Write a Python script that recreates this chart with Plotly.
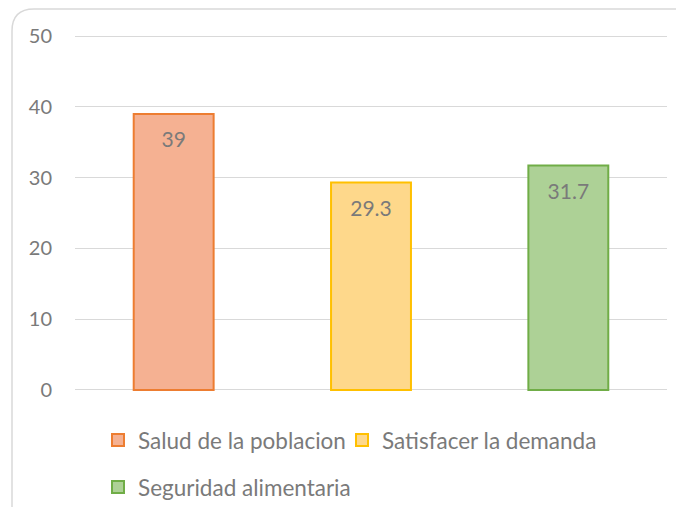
import plotly.graph_objects as go

categories = ["Salud de la poblacion", "Satisfacer la demanda", "Seguridad alimentaria"]
values = [39, 29.3, 31.7]
fill_colors = ["#F5B192", "#FED88B", "#ADD196"]
line_colors = ["#ED7D31", "#FFC000", "#70AD47"]
legend_ids = ["legend", "legend3", "legend2"]
y_ticks = [0, 10, 20, 30, 40, 50]
y_range = [-0.3, 50.3]

# page body has an 8px margin: work in reference pixels, shift by OFF
OFF = 8
W, H = 684 - 2 * OFF, 515 - 2 * OFF
Y0_PX, Y50_PX = 390, 36          # reference pixel rows of 0 and 50
X_LEFT, X_RIGHT = 75, 667        # reference pixel columns of plot edges
PX_PER_UNIT = (Y0_PX - Y50_PX) / 50
PLOT_T = Y50_PX - (y_range[1] - 50) * PX_PER_UNIT
PLOT_B = Y0_PX + (0 - y_range[0]) * PX_PER_UNIT
L = X_LEFT - OFF
T = PLOT_T - OFF
R = W - (X_RIGHT - OFF)
B = H - (PLOT_B - OFF)
PW, PH = X_RIGHT - X_LEFT, PLOT_B - PLOT_T

FONT = "Lato"
GRAY = "#7A7A7A"

fig = go.Figure()
for cat, val, fc, lc, lg in zip(categories, values, fill_colors, line_colors, legend_ids):
    fig.add_trace(go.Bar(
        x=[cat], y=[val], name=cat,
        width=0.405,
        marker=dict(color=fc, line=dict(color=lc, width=2)),
        text=[val],
        texttemplate="<span style='font-size:3px'>\u00a0</span><br>%{y}",
        textposition="inside", insidetextanchor="end",
        textfont=dict(family=FONT, size=21, color=GRAY),
        legend=lg,
    ))

def px2x(px):
    return (px - X_LEFT) / PW

def px2y(py):
    return (PLOT_B - py) / PH

# rounded chart-area border
x0, x1, y0, y1, r = 12, 702, 8.8, 530, 22
path = (
    f"M {px2x(x0 + r)},{px2y(y0)} L {px2x(x1 - r)},{px2y(y0)} "
    f"Q {px2x(x1)},{px2y(y0)} {px2x(x1)},{px2y(y0 + r)} "
    f"L {px2x(x1)},{px2y(y1 - r)} Q {px2x(x1)},{px2y(y1)} {px2x(x1 - r)},{px2y(y1)} "
    f"L {px2x(x0 + r)},{px2y(y1)} Q {px2x(x0)},{px2y(y1)} {px2x(x0)},{px2y(y1 - r)} "
    f"L {px2x(x0)},{px2y(y0 + r)} Q {px2x(x0)},{px2y(y0)} {px2x(x0 + r)},{px2y(y0)} Z"
)

legend_font = dict(family=FONT, size=22.5, color=GRAY)

def legend_at(px, py):
    return dict(orientation="h", x=px2x(px), y=px2y(py), xanchor="left", yanchor="top",
                font=legend_font, bgcolor="rgba(0,0,0,0)")

fig.update_layout(
    width=W, height=H,
    margin=dict(l=L, r=R, t=T, b=B, autoexpand=False),
    paper_bgcolor="white", plot_bgcolor="white",
    barmode="overlay",
    font=dict(family=FONT, size=20, color=GRAY),
    showlegend=True,
    shapes=[dict(type="path", path=path, xref="paper", yref="paper",
                 line=dict(color="#D9D9D9", width=1.5), layer="below")],
    xaxis=dict(showticklabels=False, showgrid=False, zeroline=False,
               showline=False, ticks=""),
    yaxis=dict(range=y_range, tickvals=y_ticks, showgrid=True,
               gridcolor="#D9D9D9", gridwidth=1.4, zeroline=False,
               showline=False, ticks="", ticklabelstandoff=22,
               tickfont=dict(family=FONT, size=20, color=GRAY)),
    legend=legend_at(98, 419),
    legend3=legend_at(342, 419),
    legend2=legend_at(98, 466),
)

fig.write_html("out.html")
